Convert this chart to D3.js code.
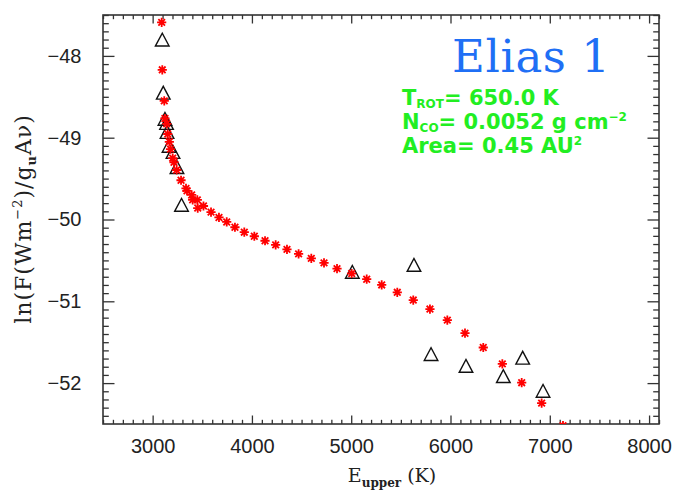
<!DOCTYPE html>
<html>
<head>
<meta charset="utf-8">
<script src="https://cdn.jsdelivr.net/npm/d3@7"></script>
<style>
  html, body { margin: 0; padding: 0; background: #fff; }
  svg { display: block; }
</style>
</head>
<body>
<svg id="chart" width="678" height="494"></svg>
<script>
// ---- data ----
// model (red asterisks): upper-level energy (K) and ln(F/(g_u A nu))
const modelE = [3091, 3097, 3117, 3124, 3142, 3152, 3168, 3180, 3202, 3215,
                3242, 3286, 3336, 3346, 3393, 3403, 3450, 3454, 3512, 3588,
                3668, 3746, 3829, 3923, 4024, 4132, 4239, 4353, 4470, 4598,
                4726, 4857, 5005, 5156, 5307, 5464, 5625, 5793, 5968, 6146,
                6330, 6522, 6717, 6918, 7133];
const modelV = [-47.59, -48.17, -48.55, -48.765, -48.83, -48.955, -49.05, -49.14, -49.25, -49.30,
                -49.395, -49.52, -49.62, -49.65, -49.70, -49.76, -49.76, -49.86, -49.835, -49.91,
                -49.975, -50.03, -50.095, -50.155, -50.205, -50.26, -50.31, -50.365, -50.42, -50.475,
                -50.53, -50.60, -50.66, -50.73, -50.80, -50.89, -50.985, -51.095, -51.23, -51.39,
                -51.565, -51.765, -51.995, -52.245, -52.52];
// observed (open triangles)
const obsE = [3097, 3107, 3124, 3140, 3145, 3165, 3205, 3245, 3291,
              5011, 5632, 5804, 6156, 6532, 6727, 6932];
const obsV = [-47.80, -48.45, -48.77, -48.82, -48.93, -49.10, -49.175, -49.36, -49.82,
              -50.64, -50.555, -51.645, -51.79, -51.915, -51.69, -52.095];
// axes
const xDomain = [2500, 8100];
const yDomain = [-52.5, -47.5];
const xTickLabels = [3000, 4000, 5000, 6000, 7000, 8000];
const yTickLabels = [-52, -51, -50, -49, -48];
// annotations
const titleText = "Elias 1";
const paramLines = [
  [{t: "T"}, {t: "ROT", sub: true}, {t: "= 650.0 K"}],
  [{t: "N"}, {t: "CO", sub: true}, {t: "= 0.0052 g cm"}, {t: "\u22122", sup: true}],
  [{t: "Area= 0.45 AU"}, {t: "2", sup: true}]
];

// ---- layout ----
const L = 103, R = 659, T = 15, B = 424;
const svg = d3.select("#chart");
const x = d3.scaleLinear().domain(xDomain).range([L, R]);
const y = d3.scaleLinear().domain(yDomain).range([B, T]);

const axisColor = "#333";
const xMajorLen = 8.5, xMinorLen = 4.2, yMajorLen = 11.5, yMinorLen = 5.8;

const xMinor = d3.range(xDomain[0], xDomain[1] + 1, 100).filter(v => v % 1000 !== 0);
const yMinor = d3.range(-52.4, -47.5 + 1e-9, 0.1).map(v => Math.round(v * 10) / 10).filter(v => Math.abs(v - Math.round(v)) > 1e-6);

function fmtMinus(d) { return d < 0 ? "\u2212" + Math.abs(d) : String(d); }

// bottom axis
const gB = svg.append("g").attr("transform", `translate(0,${B})`)
  .call(d3.axisBottom(x).tickValues(xTickLabels).tickSize(-xMajorLen).tickPadding(xMajorLen + 13).tickFormat(d => d));
const gBm = svg.append("g").attr("transform", `translate(0,${B})`)
  .call(d3.axisBottom(x).tickValues(xMinor).tickSize(-xMinorLen).tickFormat(""));
// top axis
const gT = svg.append("g").attr("transform", `translate(0,${T})`)
  .call(d3.axisTop(x).tickValues(xTickLabels).tickSize(-xMajorLen).tickFormat(""));
const gTm = svg.append("g").attr("transform", `translate(0,${T})`)
  .call(d3.axisTop(x).tickValues(xMinor).tickSize(-xMinorLen).tickFormat(""));
// left axis
const gL = svg.append("g").attr("transform", `translate(${L},0)`)
  .call(d3.axisLeft(y).tickValues(yTickLabels).tickSize(-yMajorLen).tickPadding(yMajorLen + 10).tickFormat(fmtMinus));
const gLm = svg.append("g").attr("transform", `translate(${L},0)`)
  .call(d3.axisLeft(y).tickValues(yMinor).tickSize(-yMinorLen).tickFormat(""));
// right axis
const gR = svg.append("g").attr("transform", `translate(${R},0)`)
  .call(d3.axisRight(y).tickValues(yTickLabels).tickSize(-yMajorLen).tickFormat(""));
const gRm = svg.append("g").attr("transform", `translate(${R},0)`)
  .call(d3.axisRight(y).tickValues(yMinor).tickSize(-yMinorLen).tickFormat(""));

[gB, gBm, gT, gTm, gL, gLm, gR, gRm].forEach(g => {
  g.select(".domain").remove();
  g.selectAll(".tick line").attr("stroke", axisColor).attr("stroke-width", 1.3);
  g.selectAll(".tick text").attr("fill", "#222")
    .style("font-family", "'Liberation Sans', Arial, sans-serif").style("font-size", "20px");
});
gB.selectAll(".tick text").attr("dy", "0.35em");

// frame
svg.append("rect").attr("x", L).attr("y", T).attr("width", R - L).attr("height", B - T)
  .attr("fill", "none").attr("stroke", axisColor).attr("stroke-width", 1.6);

// clip
svg.append("clipPath").attr("id", "plotclip").append("rect")
  .attr("x", L).attr("y", T).attr("width", R - L).attr("height", B - T);
const plot = svg.append("g").attr("clip-path", "url(#plotclip)");

// triangles (observed)
const tw = 6.8, th = 6.4;
plot.append("g").selectAll("path").data(d3.range(obsE.length)).join("path")
  .attr("d", i => {
    const cx = x(obsE[i]), cy = y(obsV[i]);
    return `M${cx - tw},${cy + th}L${cx},${cy - th}L${cx + tw},${cy + th}Z`;
  })
  .attr("fill", "none").attr("stroke", "#111").attr("stroke-width", 1.4);

// asterisks (model)
const r = 4.6, rd = r * 0.72;
plot.append("g").selectAll("path").data(d3.range(modelE.length)).join("path")
  .attr("d", i => {
    const cx = x(modelE[i]), cy = y(modelV[i]);
    return `M${cx - r},${cy}L${cx + r},${cy}M${cx},${cy - r}L${cx},${cy + r}` +
           `M${cx - rd},${cy - rd}L${cx + rd},${cy + rd}M${cx - rd},${cy + rd}L${cx + rd},${cy - rd}`;
  })
  .attr("fill", "none").attr("stroke", "#ff0000").attr("stroke-width", 1.8);

// title
svg.append("text").attr("x", 452).attr("y", 72).text(titleText)
  .attr("fill", "#1f6ff5")
  .style("font-family", "'DejaVu Serif', 'Liberation Serif', serif").style("font-size", "45px")
  .attr("textLength", 158).attr("lengthAdjust", "spacing");

// parameter lines
const lineY = [105, 129, 153];
paramLines.forEach((parts, li) => {
  const t = svg.append("text").attr("x", 402).attr("y", lineY[li])
    .attr("fill", "#22ee22")
    .style("font-family", "'DejaVu Sans', sans-serif").style("font-weight", "bold").style("font-size", "21px");
  let shift = 0;
  parts.forEach(p => {
    const ts = t.append("tspan").text(p.t);
    let target = 0;
    if (p.sub) { target = 3; ts.style("font-size", "12px"); }
    if (p.sup) { target = -8; ts.style("font-size", "12px"); }
    ts.attr("dy", target - shift);
    shift = target;
  });
});

// x axis title
const xt = svg.append("text").attr("x", 392).attr("y", 482).attr("text-anchor", "middle")
  .attr("fill", "#222").style("font-family", "'DejaVu Serif', serif").style("font-size", "19px");
xt.append("tspan").text("E");
xt.append("tspan").text("upper").attr("dy", 5).style("font-size", "12px").style("font-weight", "bold");
xt.append("tspan").text("\u00a0(K)").attr("dy", -5);

// y axis title
const yt = svg.append("text").attr("transform", "translate(31,219) rotate(-90)").attr("text-anchor", "middle")
  .attr("fill", "#222").style("font-family", "'DejaVu Serif', serif").style("font-size", "22px")
  .style("letter-spacing", "1px");
yt.append("tspan").text("ln(F(Wm");
yt.append("tspan").text("\u22122").attr("dy", -9).style("font-size", "13px");
yt.append("tspan").text(")/g").attr("dy", 9);
yt.append("tspan").text("u").attr("dy", 5).style("font-size", "13px").style("font-weight", "bold");
yt.append("tspan").text("A\u03bd)").attr("dy", -5);
</script>
</body>
</html>
